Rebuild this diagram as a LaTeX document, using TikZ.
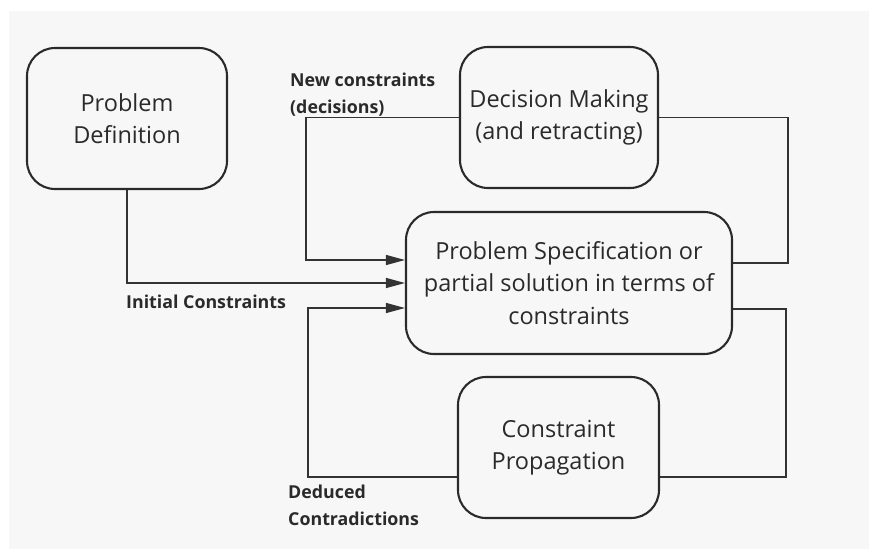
\documentclass[tikz,border=0pt]{standalone}
\usepackage{fontspec}
\setmainfont{Open Sans}
\usetikzlibrary{arrows.meta}
\definecolor{paper}{HTML}{F7F7F7}
\definecolor{ink}{HTML}{2A2A2A}
\definecolor{wire}{HTML}{333333}
\begin{document}
\begin{tikzpicture}[x=1pt,y=-1pt,
  stage/.style={draw=ink, line width=2.1pt, rounded corners=28pt, align=center,
    text=ink, inner sep=0pt, font=\fontsize{23.5}{32.5}\selectfont},
  flow/.style={draw=wire, line width=1.3pt},
  feed/.style={flow, -{Triangle[length=19pt,width=10pt]}},
  tag/.style={text=ink, inner sep=0pt, align=left,
    font=\fontsize{17.8}{27}\selectfont\bfseries}]
  % canvas
  \useasboundingbox (0,0) rectangle (869,549);
  \fill[white] (0,0) rectangle (869,549);
  \fill[paper] (9,11) rectangle (869,549);

  % stages
  \node[stage, minimum width=200pt, minimum height=141pt] (def) at (127,118.5)
    {Problem\\Definition};
  \node[stage, minimum width=198pt, minimum height=141pt] (dec) at (559,117.5)
    {Decision Making\\(and retracting)};
  \node[stage, minimum width=326pt, minimum height=142pt] (spec) at (569,283)
    {Problem Specification or\\partial solution in terms of\\constraints};
  \node[stage, minimum width=201pt, minimum height=141pt] (prop) at (558.5,447.5)
    {Constraint\\Propagation};

  % bend points of the loops
  \coordinate (decL) at (306,117.5);
  \coordinate (decR) at (788,117.5);
  \coordinate (propL) at (308,477);
  \coordinate (propR) at (786,477);

  % connectors into the specification (yshift is measured upwards)
  \draw[feed] (dec.west) -- (decL) |- ([yshift=23pt]spec.west);
  \draw[feed] (def.south) |- (spec.west);
  \draw[feed] ([yshift=-29.5pt]prop.west) -- (propL) |- ([yshift=-25pt]spec.west);

  % connectors out of the specification
  \draw[flow] (dec.east) -- (decR) |- ([yshift=20pt]spec.east);
  \draw[flow] ([yshift=-29.5pt]prop.east) -- (propR) |- ([yshift=-26pt]spec.east);

  % labels
  \node[tag, anchor=north west] (tnew) at (290,72.5) {New constraints\\(decisions)};
  \node[tag, anchor=base west] (tinit) at (126,308) {Initial Constraints};
  \node[tag, anchor=north west] (tded) at (288,484.7) {Deduced\\Contradictions};
\end{tikzpicture}
\end{document}
